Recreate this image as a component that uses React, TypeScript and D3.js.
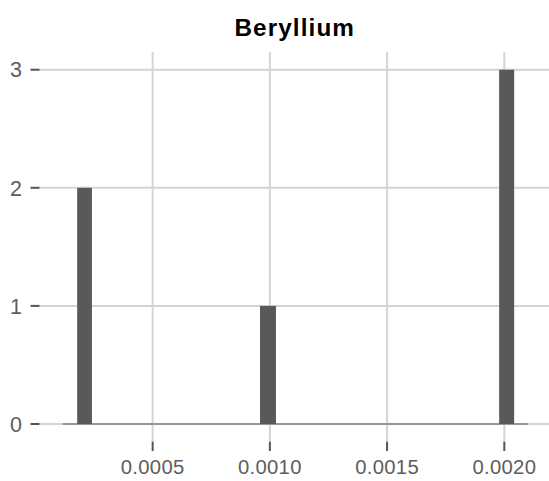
import React from "react";
import * as d3 from "d3";

const title = "Beryllium";
// histogram bins (data units) and counts
const binX0 = [0.000178, 0.000958, 0.001978];
const binX1 = [0.000241, 0.001026, 0.002042];
const counts = [2, 1, 3];
// full extent of the binned range (zero-count bins form the baseline)
const binExtent = [0.0001165, 0.0021];
const xTicks = [0.0005, 0.001, 0.0015, 0.002];
const yTicks = [0, 1, 2, 3];

const W = 549;
const H = 481;
const panel = { left: 39.5, right: 551, top: 52, bottom: 441.7 };
const FONT = "'Liberation Sans', Arial, Helvetica, sans-serif";

export default function App() {
  const xr = binExtent[1] - binExtent[0];
  const x = d3
    .scaleLinear()
    .domain([binExtent[0] - xr * 0.05, binExtent[1] + xr * 0.05])
    .range([panel.left, panel.right]);
  const yMax = d3.max(counts) as number;
  const y = d3
    .scaleLinear()
    .domain([-yMax * 0.05, yMax * 1.05])
    .range([panel.bottom, panel.top]);
  const fmt = d3.format(".4f");
  const grid = "#d4d4d4";
  const tickCol = "#555555";
  const textCol = "#5e5e5e";
  const barCol = "#595959";
  return (
    <svg
      width={W}
      height={H}
      style={{ position: "absolute", left: 0, top: 0, background: "#fff" }}
      fontFamily={FONT}
    >
      <rect x={0} y={0} width={W} height={H} fill="#fff" />
      {/* gridlines */}
      {yTicks.map((t) => (
        <line key={"gy" + t} x1={panel.left} x2={panel.right} y1={y(t)} y2={y(t)} stroke={grid} strokeWidth={2} />
      ))}
      {xTicks.map((t) => (
        <line key={"gx" + t} x1={x(t)} x2={x(t)} y1={panel.top} y2={panel.bottom} stroke={grid} strokeWidth={2} />
      ))}
      {/* baseline of zero-count bins */}
      <line x1={x(binExtent[0])} x2={x(binExtent[1])} y1={y(0)} y2={y(0)} stroke={barCol} strokeWidth={1.2} />
      {/* bars */}
      {counts.map((c, i) => (
        <rect
          key={"b" + i}
          x={x(binX0[i])}
          width={x(binX1[i]) - x(binX0[i])}
          y={y(c)}
          height={y(0) - y(c)}
          fill={barCol}
        />
      ))}
      {/* y ticks */}
      {yTicks.map((t) => (
        <g key={"ty" + t}>
          <line x1={panel.left - 9} x2={panel.left} y1={y(t)} y2={y(t)} stroke={tickCol} strokeWidth={2} />
          <text x={panel.left - 17.5} y={y(t)} dy="0.36em" textAnchor="end" fontSize={21.5} fill={textCol}>
            {t}
          </text>
        </g>
      ))}
      {/* x ticks */}
      {xTicks.map((t) => (
        <g key={"tx" + t}>
          <line x1={x(t)} x2={x(t)} y1={panel.bottom} y2={panel.bottom + 9.3} stroke={tickCol} strokeWidth={2} />
          <text x={x(t)} y={474} textAnchor="middle" fontSize={20.3} letterSpacing={0.3} fill={textCol}>
            {fmt(t)}
          </text>
        </g>
      ))}
      <text
        x={(panel.left + panel.right) / 2 - 0.5}
        y={35.6}
        textAnchor="middle"
        fontSize={24.3}
        letterSpacing={1.1}
        fontWeight="bold"
        fill="#000"
      >
        {title}
      </text>
    </svg>
  );
}
